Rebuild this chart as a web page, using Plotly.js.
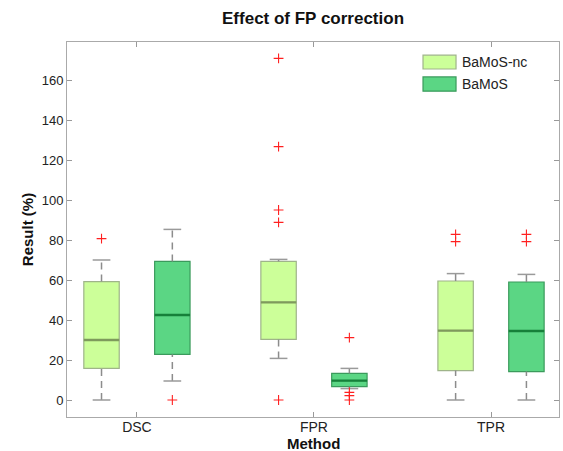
<!DOCTYPE html>
<html>
<head>
<meta charset="utf-8">
<script src="https://cdn.plot.ly/plotly-3.0.1.min.js"></script>
<style>html,body{margin:0;padding:0;background:#fff;}#chart{width:563px;height:451px;}</style>
</head>
<body>
<div id="chart"></div>
<script>
// ---- data ----
const categories = ['DSC', 'FPR', 'TPR'];
const seriesNames = ['BaMoS-nc', 'BaMoS'];

// BaMoS-nc
const ncLower  = [0,    20.8, 0];
const ncQ1     = [15.8, 30.3, 14.7];
const ncMedian = [30.0, 48.8, 34.7];
const ncQ3     = [59.2, 69.3, 59.5];
const ncUpper  = [70.0, 70.3, 63.2];
const ncOutliers = [[80.7], [0, 88.8, 95.0, 126.7, 170.8], [79.2, 82.8]];

// BaMoS
const bLower  = [9.5,  5.7,  0];
const bQ1     = [22.8, 6.7,  14.2];
const bMedian = [42.5, 9.7,  34.5];
const bQ3     = [69.3, 13.3, 59.0];
const bUpper  = [85.3, 15.8, 62.8];
const bOutliers = [[0], [0, 2.2, 3.8, 31.2], [79.2, 82.8]];

const yTicks = [0, 20, 40, 60, 80, 100, 120, 140, 160];

// ---- styles ----
const styles = [
  {fill: '#ccff99', line: '#9fb48a', median: '#7e9a5c'},
  {fill: '#5bd684', line: '#3b9a5c', median: '#16803a'}
];
const offsets = [-0.2, 0.2];
const boxW = 0.2, capW = 0.1;

const series = [
  {lower: ncLower, q1: ncQ1, med: ncMedian, q3: ncQ3, upper: ncUpper, out: ncOutliers},
  {lower: bLower, q1: bQ1, med: bMedian, q3: bQ3, upper: bUpper, out: bOutliers}
];

const traces = [];
series.forEach((s, si) => {
  const xs = categories.map((c, i) => i + 1 + offsets[si]);
  const wx = [], wy = [], cx = [], cy = [], mx = [], my = [];
  xs.forEach((x, i) => {
    wx.push(x, x, null, x, x, null);
    wy.push(s.lower[i], s.q1[i], null, s.q3[i], s.upper[i], null);
    cx.push(x - capW/2, x + capW/2, null, x - capW/2, x + capW/2, null);
    cy.push(s.lower[i], s.lower[i], null, s.upper[i], s.upper[i], null);
    mx.push(x - boxW/2, x + boxW/2, null);
    my.push(s.med[i], s.med[i], null);
  });
  traces.push({type: 'scatter', mode: 'lines', x: wx, y: wy, showlegend: false, hoverinfo: 'skip',
    line: {color: '#8c8c8c', width: 1.5, dash: '7px,5px'}});
  traces.push({type: 'scatter', mode: 'lines', x: cx, y: cy, showlegend: false, hoverinfo: 'skip',
    line: {color: '#9a9a9a', width: 1.5}});
  traces.push({type: 'box', name: seriesNames[si], x: xs,
    q1: s.q1, median: s.med, q3: s.q3, lowerfence: s.q1, upperfence: s.q3,
    width: boxW, fillcolor: styles[si].fill, line: {color: styles[si].line, width: 1.2},
    whiskerwidth: 0, boxpoints: false, showlegend: false});
  traces.push({type: 'scatter', mode: 'lines', x: mx, y: my, showlegend: false, hoverinfo: 'skip',
    line: {color: styles[si].median, width: 2.3}});
  const ox = [], oy = [];
  xs.forEach((x, i) => s.out[i].forEach(v => { ox.push(x); oy.push(v); }));
  traces.push({type: 'scatter', mode: 'markers', x: ox, y: oy, showlegend: false,
    marker: {symbol: 'cross-thin', size: 7, line: {color: '#ff2020', width: 1.1}}});
});

// manual legend
const legendShapes = [], annotations = [];
seriesNames.forEach((n, i) => {
  const y0 = [0.928, 0.869][i], y1 = [0.965, 0.907][i];
  legendShapes.push({type: 'rect', xref: 'paper', yref: 'paper', x0: 0.7236, x1: 0.7907, y0: y0, y1: y1,
    fillcolor: styles[i].fill, line: {color: styles[i].line, width: 1.2}});
  annotations.push({xref: 'paper', yref: 'paper', x: 0.799, y: (y0 + y1) / 2, xanchor: 'left', yanchor: 'middle',
    text: n, showarrow: false, font: {size: 14, color: '#222', family: 'Liberation Sans, Arial, sans-serif'}});
});
// x-axis title (placed as annotation so it sits just under the tick labels like the reference)
annotations.push({xref: 'paper', yref: 'paper', x: 0.5, y: -0.071, xanchor: 'center', yanchor: 'middle',
  text: '<b>Method</b>', showarrow: false, font: {size: 15, color: '#111', family: 'Liberation Sans, Arial, sans-serif'}});

const layout = {
  width: 563, height: 451,
  margin: {l: 67, r: 4, t: 42, b: 34},
  paper_bgcolor: '#fff', plot_bgcolor: '#fff',
  font: {family: 'Liberation Sans, Arial, sans-serif', size: 13, color: '#222'},
  title: {text: '<b>Effect of FP correction</b>', x: 0.556, xanchor: 'center', y: 0.96, yanchor: 'middle',
    font: {size: 17, color: '#111'}},
  showlegend: false,
  boxmode: 'overlay',
  xaxis: {range: [0.605, 3.384], tickvals: [1, 2, 3], ticktext: categories,
    ticks: 'inside', ticklen: 5, tickcolor: '#999', showline: true, linecolor: '#aaa', mirror: 'ticks',
    showgrid: false, zeroline: false, tickfont: {size: 14, color: '#222'}, ticklabelstandoff: -3},
  yaxis: {range: [-8.5, 179], tickvals: yTicks, ticks: 'inside', ticklen: 5, tickcolor: '#999',
    showline: true, linecolor: '#aaa', mirror: 'ticks', showgrid: false, zeroline: false,
    tickfont: {size: 13, color: '#222'},
    title: {text: '<b>Result (%)</b>', standoff: 4, font: {size: 15, color: '#111'}}},
  shapes: legendShapes,
  annotations: annotations
};

Plotly.newPlot('chart', traces, layout, {displayModeBar: false, staticPlot: true});
</script>
</body>
</html>
